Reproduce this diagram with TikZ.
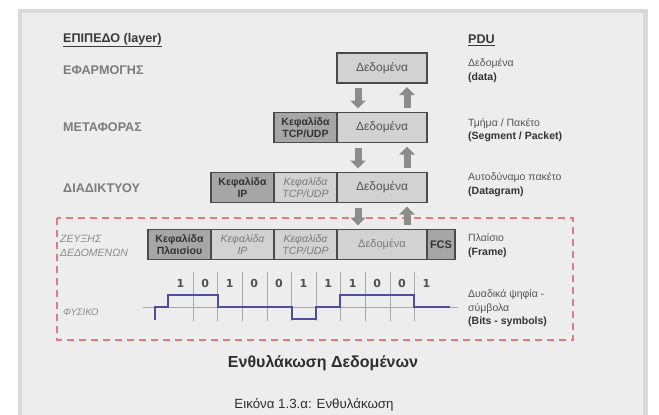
\documentclass[tikz,border=0pt]{standalone}
\usepackage{fontspec}
\setmainfont{Liberation Sans}
\newfontfamily\digitfont{DejaVu Sans}
\usetikzlibrary{arrows.meta}
\definecolor{shadowgray}{HTML}{D9D9D9}
\definecolor{panelgray}{HTML}{EDEDED}
\definecolor{lyrgray}{HTML}{7C7C7C}
\definecolor{itgray}{HTML}{8A8A8A}
\definecolor{headtext}{HTML}{3A3A3A}
\definecolor{pdutext}{HTML}{555555}
\definecolor{pdubold}{HTML}{333333}
\definecolor{boxline}{HTML}{4A4A4A}
\definecolor{datafill}{HTML}{D2D2D2}
\definecolor{hdrfill}{HTML}{A6A6A6}
\definecolor{celltext}{HTML}{555555}
\definecolor{hdrtext}{HTML}{333333}
\definecolor{ittext}{HTML}{7A7A7A}
\definecolor{flowgray}{HTML}{8C8C8C}
\definecolor{reddash}{HTML}{E07C80}
\definecolor{gridgray}{HTML}{A8A8A8}
\definecolor{sigblue}{HTML}{4E4E9E}
\definecolor{digitgray}{HTML}{505050}
\definecolor{titletext}{HTML}{2E2E2E}
\begin{document}
\begin{tikzpicture}[x=1pt,y=-1pt,
  lyr/.style={text=lyrgray, font=\fontsize{12.6}{14}\selectfont\bfseries, anchor=west, inner sep=0pt},
  lyrit/.style={text=itgray, font=\fontsize{10.5}{14}\selectfont\itshape, anchor=west, inner sep=0pt, align=left},
  colhead/.style={text=headtext, font=\fontsize{12.6}{14}\selectfont\bfseries, anchor=west, inner sep=0pt},
  pdu/.style={text=pdutext, font=\fontsize{10.5}{13.5}\selectfont, anchor=west, align=left, inner sep=0pt},
  cell/.style={draw=boxline, line width=1.1pt, minimum height=30pt, inner sep=0pt, outer sep=0pt, align=center},
  datacell/.style={cell, fill=datafill, minimum width=90pt, font=\fontsize{12}{13}\selectfont, text=celltext},
  hdrcell/.style={cell, fill=hdrfill, minimum width=63pt, font=\fontsize{10.5}{12}\selectfont\bfseries, text=hdrtext},
  ithdr/.style={cell, fill=datafill, minimum width=63pt, font=\fontsize{10.5}{12}\selectfont\itshape, text=ittext},
  flow/.style={draw=flowgray, line width=7pt, shorten <=5pt, shorten >=4pt, -{Triangle[width=15pt,length=8pt]}},
  digit/.style={text=digitgray, font=\digitfont\fontsize{11}{13}\selectfont\bfseries, inner sep=0pt},
]
\useasboundingbox (0,0) rectangle (659,415);
\fill[white] (0,0) rectangle (659,415);
\fill[shadowgray] (18,9) rectangle (648,415);
\fill[panelgray] (22,13) rectangle (643,415);

% column headings
\node[colhead] (hlayer) at (63,40) {\underline{ΕΠΙΠΕΔΟ (layer)}};
\node[colhead] (hpdu) at (468,40) {\underline{PDU}};

% layer names
\node[lyr] (lapp) at (63,70) {ΕΦΑΡΜΟΓΗΣ};
\node[lyr] (ltr) at (63,127) {ΜΕΤΑΦΟΡΑΣ};
\node[lyr] (lnet) at (63,188) {ΔΙΑΔΙΚΤΥΟΥ};
\node[lyrit] (llink) at (60,246) {ΖΕΥΞΗΣ\\ΔΕΔΟΜΕΝΩΝ};
\node[lyrit, font=\fontsize{9.5}{12}\selectfont\itshape] (lphy) at (63,312) {ΦΥΣΙΚΟ};

% red dashed link-layer zone
\draw[reddash, line width=1.2pt, dash pattern=on 7pt off 5pt] (57,218) rectangle (573,340);

% application row
\node[datacell] (appdata) at (382,68) {Δεδομένα};
% transport row
\node[datacell] (trdata) at (382,127.5) {Δεδομένα};
\node[hdrcell, anchor=east] (trhdr) at (trdata.west) {Κεφαλίδα\\TCP/UDP};
% internet row
\node[datacell] (ipdata) at (382,187.5) {Δεδομένα};
\node[ithdr, anchor=east] (iptcp) at (ipdata.west) {Κεφαλίδα\\TCP/UDP};
\node[hdrcell, anchor=east] (iphdr) at (iptcp.west) {Κεφαλίδα\\IP};
% link row
\node[datacell, font=\fontsize{11}{12}\selectfont, text=ittext] (lkdata) at (382,244.5) {Δεδομένα};
\node[ithdr, anchor=east] (lktcp) at (lkdata.west) {Κεφαλίδα\\TCP/UDP};
\node[ithdr, anchor=east] (lkip) at (lktcp.west) {Κεφαλίδα\\IP};
\node[hdrcell, anchor=east] (lkhdr) at (lkip.west) {Κεφαλίδα\\Πλαισίου};
\node[hdrcell, minimum width=28pt, font=\fontsize{11}{12}\selectfont\bfseries, anchor=west] (lkfcs) at (lkdata.east) {FCS};

% flow arrows
\coordinate (dx) at (358,0);
\coordinate (ux) at (407,0);
\draw[flow] (appdata.south -| dx) -- (trdata.north -| dx);
\draw[flow] (trdata.north -| ux) -- (appdata.south -| ux);
\draw[flow] (trdata.south -| dx) -- (ipdata.north -| dx);
\draw[flow] (ipdata.north -| ux) -- (trdata.south -| ux);
\draw[flow] (ipdata.south -| dx) -- (lkdata.north -| dx);
\draw[flow] (lkdata.north -| ux) -- (ipdata.south -| ux);

% PDU names
\node[pdu] (papp) at (468,70.5) {Δεδομένα\\{\color{pdubold}\bfseries(data)}};
\node[pdu] (ptr) at (468,130) {Τμήμα / Πακέτο\\{\color{pdubold}\bfseries(Segment / Packet)}};
\node[pdu] (pnet) at (468,184.5) {Αυτοδύναμο πακέτο\\{\color{pdubold}\bfseries(Datagram)}};
\node[pdu] (plink) at (468,245.5) {Πλαίσιο\\{\color{pdubold}\bfseries(Frame)}};
\node[pdu] (pphy) at (468,308.5) {Δυαδικά ψηφία -\\σύμβολα\\{\color{pdubold}\bfseries(Bits - symbols)}};

% bit grid and signal
\draw[gridgray, line width=0.6pt] (143,307) -- (458,307);
\foreach \i in {0,...,9} \draw[gridgray, line width=0.6pt] ({193+24.6*\i},272) -- ({193+24.6*\i},321);
\foreach \b [count=\i from 0] in {1,0,1,0,0,1,1,1,0,0,1}
  \node[digit] (bit\i) at ({180.5+24.6*\i},283) {\b};
\draw[sigblue, line width=1.6pt] (155,320) -- (155,307) -- (168,307) -- (168,295) -- (218,295) -- (218,307)
  -- (292,307) -- (292,319) -- (316,319) -- (316,307) -- (340,307) -- (340,295) -- (414,295) -- (414,307) -- (450,307);

% title and caption
\node[font=\fontsize{16}{18}\selectfont\bfseries, text=titletext] (title) at (323,363) {Ενθυλάκωση Δεδομένων};
\node[font=\fontsize{13.3}{15}\selectfont, text=titletext] (caption) at (314,405) {Εικόνα 1.3.α: Ενθυλάκωση};
\end{tikzpicture}
\end{document}
